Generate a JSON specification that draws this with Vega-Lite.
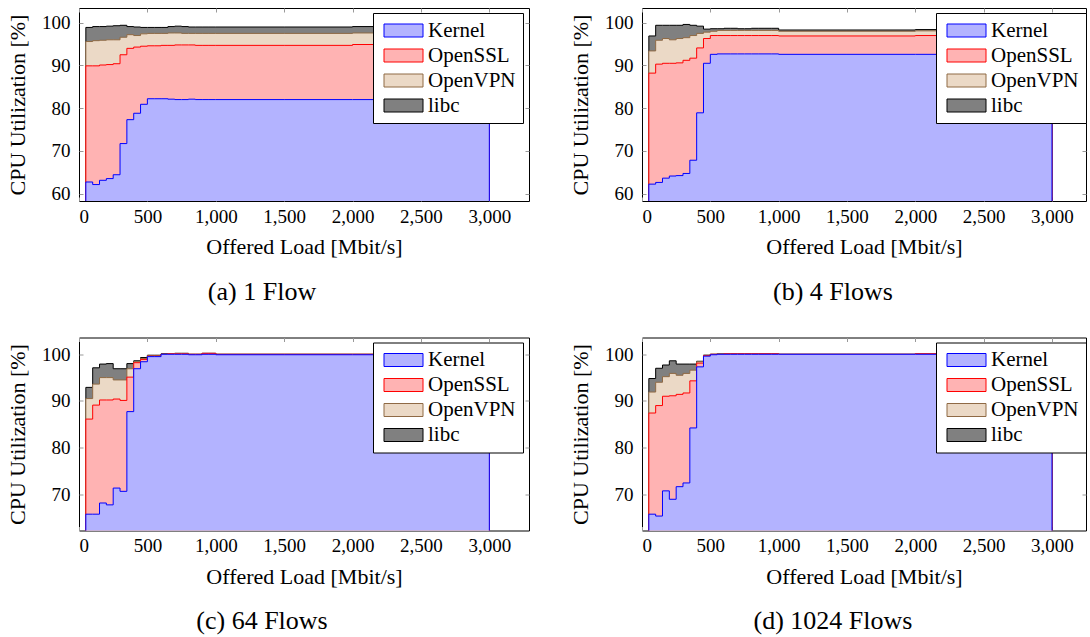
{
  "$schema": "https://vega.github.io/schema/vega-lite/v6.json",
  "padding": {"left": 6, "top": 7, "right": 0, "bottom": 0},
  "background": "white",
  "datasets": {
    "cpu": [
      {"flows":1,"load":50,"Kernel":62.7,"OpenSSL":89.9,"OpenVPN":95.6,"libc":98.9},
      {"flows":1,"load":100,"Kernel":62.1,"OpenSSL":89.9,"OpenVPN":95.8,"libc":99.1},
      {"flows":1,"load":150,"Kernel":63.1,"OpenSSL":90.1,"OpenVPN":95.9,"libc":99.1},
      {"flows":1,"load":200,"Kernel":63.5,"OpenSSL":90.2,"OpenVPN":96.0,"libc":99.2},
      {"flows":1,"load":250,"Kernel":64.4,"OpenSSL":90.4,"OpenVPN":96.0,"libc":99.3},
      {"flows":1,"load":300,"Kernel":71.7,"OpenSSL":92.5,"OpenVPN":96.6,"libc":99.4},
      {"flows":1,"load":350,"Kernel":77.3,"OpenSSL":94.0,"OpenVPN":97.2,"libc":99.1},
      {"flows":1,"load":400,"Kernel":78.8,"OpenSSL":94.3,"OpenVPN":97.0,"libc":99.0},
      {"flows":1,"load":450,"Kernel":80.9,"OpenSSL":94.5,"OpenVPN":97.4,"libc":98.9},
      {"flows":1,"load":500,"Kernel":82.2,"OpenSSL":94.6,"OpenVPN":97.5,"libc":98.9},
      {"flows":1,"load":550,"Kernel":82.2,"OpenSSL":94.6,"OpenVPN":97.5,"libc":98.9},
      {"flows":1,"load":600,"Kernel":82.2,"OpenSSL":94.7,"OpenVPN":97.5,"libc":98.9},
      {"flows":1,"load":650,"Kernel":82.1,"OpenSSL":94.7,"OpenVPN":97.6,"libc":99.1},
      {"flows":1,"load":700,"Kernel":82.0,"OpenSSL":94.8,"OpenVPN":97.6,"libc":99.2},
      {"flows":1,"load":750,"Kernel":82.0,"OpenSSL":94.8,"OpenVPN":97.5,"libc":99.1},
      {"flows":1,"load":800,"Kernel":82.1,"OpenSSL":94.8,"OpenVPN":97.5,"libc":99.0},
      {"flows":1,"load":850,"Kernel":82.0,"OpenSSL":94.7,"OpenVPN":97.5,"libc":99.0},
      {"flows":1,"load":900,"Kernel":82.0,"OpenSSL":94.7,"OpenVPN":97.5,"libc":99.0},
      {"flows":1,"load":950,"Kernel":82.0,"OpenSSL":94.7,"OpenVPN":97.5,"libc":99.0},
      {"flows":1,"load":1000,"Kernel":82.0,"OpenSSL":94.7,"OpenVPN":97.5,"libc":99.0},
      {"flows":1,"load":1500,"Kernel":82.0,"OpenSSL":94.7,"OpenVPN":97.5,"libc":99.0},
      {"flows":1,"load":2000,"Kernel":82.0,"OpenSSL":94.9,"OpenVPN":97.6,"libc":99.1},
      {"flows":1,"load":2500,"Kernel":82.0,"OpenSSL":94.9,"OpenVPN":97.6,"libc":99.1},
      {"flows":1,"load":3000,"Kernel":82.0,"OpenSSL":94.9,"OpenVPN":97.6,"libc":99.1},

      {"flows":4,"load":50,"Kernel":62.2,"OpenSSL":88.2,"OpenVPN":93.4,"libc":96.9},
      {"flows":4,"load":100,"Kernel":62.6,"OpenSSL":90.3,"OpenVPN":95.9,"libc":99.4},
      {"flows":4,"load":150,"Kernel":63.6,"OpenSSL":90.5,"OpenVPN":96.3,"libc":99.4},
      {"flows":4,"load":200,"Kernel":64.1,"OpenSSL":90.5,"OpenVPN":96.0,"libc":99.4},
      {"flows":4,"load":250,"Kernel":64.2,"OpenSSL":90.6,"OpenVPN":96.3,"libc":99.4},
      {"flows":4,"load":300,"Kernel":64.7,"OpenSSL":91.2,"OpenVPN":96.5,"libc":99.6},
      {"flows":4,"load":350,"Kernel":67.8,"OpenSSL":91.7,"OpenVPN":97.0,"libc":99.4},
      {"flows":4,"load":400,"Kernel":78.9,"OpenSSL":94.1,"OpenVPN":97.5,"libc":99.2},
      {"flows":4,"load":450,"Kernel":90.5,"OpenSSL":96.3,"OpenVPN":97.8,"libc":98.5},
      {"flows":4,"load":500,"Kernel":92.6,"OpenSSL":97.0,"OpenVPN":98.0,"libc":98.6},
      {"flows":4,"load":550,"Kernel":92.7,"OpenSSL":97.0,"OpenVPN":98.2,"libc":98.6},
      {"flows":4,"load":600,"Kernel":92.7,"OpenSSL":97.0,"OpenVPN":98.2,"libc":98.7},
      {"flows":4,"load":650,"Kernel":92.7,"OpenSSL":97.0,"OpenVPN":98.2,"libc":98.7},
      {"flows":4,"load":700,"Kernel":92.7,"OpenSSL":97.0,"OpenVPN":98.2,"libc":98.6},
      {"flows":4,"load":750,"Kernel":92.7,"OpenSSL":97.0,"OpenVPN":98.2,"libc":98.6},
      {"flows":4,"load":800,"Kernel":92.7,"OpenSSL":97.0,"OpenVPN":98.2,"libc":98.7},
      {"flows":4,"load":850,"Kernel":92.7,"OpenSSL":97.0,"OpenVPN":98.2,"libc":98.7},
      {"flows":4,"load":900,"Kernel":92.7,"OpenSSL":97.0,"OpenVPN":98.2,"libc":98.7},
      {"flows":4,"load":950,"Kernel":92.7,"OpenSSL":97.0,"OpenVPN":98.2,"libc":98.7},
      {"flows":4,"load":1000,"Kernel":92.6,"OpenSSL":96.9,"OpenVPN":98.0,"libc":98.3},
      {"flows":4,"load":1500,"Kernel":92.6,"OpenSSL":96.9,"OpenVPN":98.0,"libc":98.3},
      {"flows":4,"load":2000,"Kernel":92.6,"OpenSSL":97.0,"OpenVPN":98.1,"libc":98.4},
      {"flows":4,"load":2500,"Kernel":92.6,"OpenSSL":97.0,"OpenVPN":98.1,"libc":98.4},
      {"flows":4,"load":3000,"Kernel":92.6,"OpenSSL":97.0,"OpenVPN":98.1,"libc":98.4},

      {"flows":64,"load":50,"Kernel":65.7,"OpenSSL":86.1,"OpenVPN":90.5,"libc":92.9},
      {"flows":64,"load":100,"Kernel":65.7,"OpenSSL":89.1,"OpenVPN":93.6,"libc":97.1},
      {"flows":64,"load":150,"Kernel":68.1,"OpenSSL":90.2,"OpenVPN":95.0,"libc":97.9},
      {"flows":64,"load":200,"Kernel":67.7,"OpenSSL":90.2,"OpenVPN":95.0,"libc":98.0},
      {"flows":64,"load":250,"Kernel":71.3,"OpenSSL":90.4,"OpenVPN":94.5,"libc":96.9},
      {"flows":64,"load":300,"Kernel":70.6,"OpenSSL":90.1,"OpenVPN":94.5,"libc":96.9},
      {"flows":64,"load":350,"Kernel":87.7,"OpenSSL":95.1,"OpenVPN":96.9,"libc":98.0},
      {"flows":64,"load":400,"Kernel":96.9,"OpenSSL":98.2,"OpenVPN":98.4,"libc":98.6},
      {"flows":64,"load":450,"Kernel":98.4,"OpenSSL":98.9,"OpenVPN":99.1,"libc":99.3},
      {"flows":64,"load":500,"Kernel":99.5,"OpenSSL":99.6,"OpenVPN":99.7,"libc":99.8},
      {"flows":64,"load":550,"Kernel":99.5,"OpenSSL":99.6,"OpenVPN":99.7,"libc":99.8},
      {"flows":64,"load":600,"Kernel":100.0,"OpenSSL":100.0,"OpenVPN":100.0,"libc":100.1},
      {"flows":64,"load":650,"Kernel":100.0,"OpenSSL":100.1,"OpenVPN":100.1,"libc":100.1},
      {"flows":64,"load":700,"Kernel":100.0,"OpenSSL":100.1,"OpenVPN":100.2,"libc":100.2},
      {"flows":64,"load":750,"Kernel":100.0,"OpenSSL":100.1,"OpenVPN":100.2,"libc":100.2},
      {"flows":64,"load":800,"Kernel":99.9,"OpenSSL":100.0,"OpenVPN":100.0,"libc":100.0},
      {"flows":64,"load":850,"Kernel":99.9,"OpenSSL":100.0,"OpenVPN":100.0,"libc":100.0},
      {"flows":64,"load":900,"Kernel":100.0,"OpenSSL":100.2,"OpenVPN":100.2,"libc":100.2},
      {"flows":64,"load":950,"Kernel":100.0,"OpenSSL":100.2,"OpenVPN":100.2,"libc":100.2},
      {"flows":64,"load":1000,"Kernel":99.9,"OpenSSL":100.0,"OpenVPN":100.0,"libc":100.0},
      {"flows":64,"load":1500,"Kernel":99.9,"OpenSSL":100.0,"OpenVPN":100.0,"libc":100.0},
      {"flows":64,"load":2000,"Kernel":99.9,"OpenSSL":100.0,"OpenVPN":100.0,"libc":100.0},
      {"flows":64,"load":2500,"Kernel":99.9,"OpenSSL":100.0,"OpenVPN":100.0,"libc":100.0},
      {"flows":64,"load":3000,"Kernel":99.9,"OpenSSL":100.0,"OpenVPN":100.0,"libc":100.0},

      {"flows":1024,"load":50,"Kernel":65.7,"OpenSSL":87.4,"OpenVPN":91.9,"libc":94.8},
      {"flows":1024,"load":100,"Kernel":65.3,"OpenSSL":89.0,"OpenVPN":94.0,"libc":97.0},
      {"flows":1024,"load":150,"Kernel":70.7,"OpenSSL":91.0,"OpenVPN":95.2,"libc":97.7},
      {"flows":1024,"load":200,"Kernel":68.9,"OpenSSL":91.1,"OpenVPN":95.9,"libc":98.6},
      {"flows":1024,"load":250,"Kernel":71.6,"OpenSSL":91.4,"OpenVPN":95.5,"libc":97.9},
      {"flows":1024,"load":300,"Kernel":72.4,"OpenSSL":91.7,"OpenVPN":95.9,"libc":97.9},
      {"flows":1024,"load":350,"Kernel":84.2,"OpenSSL":94.3,"OpenVPN":96.6,"libc":97.9},
      {"flows":1024,"load":400,"Kernel":97.3,"OpenSSL":98.1,"OpenVPN":98.4,"libc":98.5},
      {"flows":1024,"load":450,"Kernel":99.6,"OpenSSL":99.7,"OpenVPN":99.8,"libc":99.8},
      {"flows":1024,"load":500,"Kernel":99.9,"OpenSSL":100.0,"OpenVPN":100.0,"libc":100.0},
      {"flows":1024,"load":550,"Kernel":100.0,"OpenSSL":100.0,"OpenVPN":100.1,"libc":100.1},
      {"flows":1024,"load":600,"Kernel":100.0,"OpenSSL":100.1,"OpenVPN":100.1,"libc":100.1},
      {"flows":1024,"load":650,"Kernel":100.0,"OpenSSL":100.1,"OpenVPN":100.1,"libc":100.1},
      {"flows":1024,"load":700,"Kernel":100.0,"OpenSSL":100.1,"OpenVPN":100.1,"libc":100.1},
      {"flows":1024,"load":750,"Kernel":100.0,"OpenSSL":100.1,"OpenVPN":100.1,"libc":100.1},
      {"flows":1024,"load":800,"Kernel":100.0,"OpenSSL":100.1,"OpenVPN":100.1,"libc":100.1},
      {"flows":1024,"load":850,"Kernel":100.0,"OpenSSL":100.1,"OpenVPN":100.1,"libc":100.1},
      {"flows":1024,"load":900,"Kernel":100.0,"OpenSSL":100.1,"OpenVPN":100.1,"libc":100.1},
      {"flows":1024,"load":950,"Kernel":100.0,"OpenSSL":100.1,"OpenVPN":100.1,"libc":100.1},
      {"flows":1024,"load":1000,"Kernel":100.0,"OpenSSL":100.0,"OpenVPN":100.0,"libc":100.0},
      {"flows":1024,"load":1500,"Kernel":100.0,"OpenSSL":100.0,"OpenVPN":100.0,"libc":100.0},
      {"flows":1024,"load":2000,"Kernel":100.0,"OpenSSL":100.1,"OpenVPN":100.1,"libc":100.1},
      {"flows":1024,"load":2500,"Kernel":100.0,"OpenSSL":100.1,"OpenVPN":100.1,"libc":100.1},
      {"flows":1024,"load":3000,"Kernel":100.0,"OpenSSL":100.1,"OpenVPN":100.1,"libc":100.1}
    ]
  },
  "data": {"name": "cpu"},
  "config": {
    "font": "Liberation Serif",
    "view": {"stroke": "#000", "strokeWidth": 1},
    "axis": {
      "labelFont": "Liberation Serif", "titleFont": "Liberation Serif",
      "labelFontSize": 19, "titleFontSize": 22, "titleFontWeight": "normal",
      "labelColor": "#000", "titleColor": "#000",
      "grid": false, "domain": false,
      "tickColor": "#999", "tickSize": -4, "tickWidth": 1
    },
    "axisBottom": {"labelPadding": 10, "titlePadding": 10.5},
    "axisLeft": {"labelPadding": 13, "titlePadding": 12},
    "legend": {
      "title": null,
      "fillColor": "#fff", "strokeColor": "#000",
      "padding": 7,
      "symbolType": "M-3,-1H3V1H-3Z",
      "symbolSize": 169,
      "symbolStrokeWidth": 1,
      "symbolOpacity": 1,
      "symbolOffset": 13,
      "labelOffset": 14,
      "labelFont": "Liberation Serif", "labelFontSize": 21, "labelColor": "#000",
      "rowPadding": 3
    },
    "title": {
      "font": "Liberation Serif", "fontSize": 26, "fontWeight": "normal", "color": "#000",
      "orient": "bottom", "anchor": "middle", "frame": "bounds", "offset": 21
    }
  },
  "resolve": {"scale": {"fill": "independent", "stroke": "independent"}},
  "spacing": 31.5,
  "vconcat": [
    {
      "resolve": {"scale": {"fill": "independent", "stroke": "independent"}},
      "spacing": 39,
      "hconcat": [
        {
          "width": 450, "height": 193,
          "title": {"text": "(a) 1 Flow", "dx": -6},
          "transform": [{"filter": "datum.flows == 1"}, {"fold": ["Kernel", "OpenSSL", "OpenVPN", "libc"], "as": ["part", "level"]}],
          "layer": [
            {
              "encoding": {
                "x": {"field": "load", "type": "quantitative", "scale": {"domain": [0, 3290], "nice": false}, "axis": {"values": [0, 500, 1000, 1500, 2000, 2500, 3000], "format": ",d", "title": "Offered Load [Mbit/s]"}},
                "y": {"field": "level", "type": "quantitative", "scale": {"domain": [58.25, 103.45], "nice": false, "zero": false}, "axis": {"values": [60, 70, 80, 90, 100], "title": "CPU Utilization [%]"}},
                "fill": {"field": "part", "type": "nominal", "title": null, "scale": {"domain": ["Kernel", "OpenSSL", "OpenVPN", "libc"], "range": ["#b3b3ff", "#ffb3b3", "#ebd9c6", "#808080"]}, "legend": {"orient": "none", "legendX": 294, "legendY": 5}},
                "stroke": {"field": "part", "type": "nominal", "title": null, "scale": {"domain": ["Kernel", "OpenSSL", "OpenVPN", "libc"], "range": ["#0000ff", "#ff0000", "#8f6a45", "#000000"]}, "legend": {"orient": "none", "legendX": 294, "legendY": 5}}
              },
              "layer": [
                {"transform": [{"filter": "datum.part == 'libc'"}], "mark": {"type": "area", "interpolate": "step-after", "opacity": 1, "strokeWidth": 1, "clip": true}},
                {"transform": [{"filter": "datum.part == 'OpenVPN'"}], "mark": {"type": "area", "interpolate": "step-after", "opacity": 1, "strokeWidth": 1, "clip": true}},
                {"transform": [{"filter": "datum.part == 'OpenSSL'"}], "mark": {"type": "area", "interpolate": "step-after", "opacity": 1, "strokeWidth": 1, "clip": true}},
                {"transform": [{"filter": "datum.part == 'Kernel'"}], "mark": {"type": "area", "interpolate": "step-after", "opacity": 1, "strokeWidth": 1, "clip": true}}
              ]
            },
            {
              "transform": [{"filter": "datum.part == 'Kernel'"}],
              "mark": {"type": "point", "opacity": 0},
              "encoding": {
                "x": {"field": "load", "type": "quantitative", "scale": {"domain": [0, 3290], "nice": false}, "axis": {"orient": "top", "values": [0, 500, 1000, 1500, 2000, 2500, 3000], "labels": false, "title": null}},
                "y": {"field": "level", "type": "quantitative", "scale": {"domain": [58.25, 103.45], "nice": false, "zero": false}, "axis": {"orient": "right", "values": [60, 70, 80, 90, 100], "labels": false, "title": null}}
              }
            }
          ],
          "resolve": {"axis": {"x": "independent", "y": "independent"}}
        },
        {
          "width": 444, "height": 193,
          "title": {"text": "(b) 4 Flows", "dx": 5},
          "transform": [{"filter": "datum.flows == 4"}, {"fold": ["Kernel", "OpenSSL", "OpenVPN", "libc"], "as": ["part", "level"]}],
          "layer": [
            {
              "encoding": {
                "x": {"field": "load", "type": "quantitative", "scale": {"domain": [0, 3249], "nice": false}, "axis": {"values": [0, 500, 1000, 1500, 2000, 2500, 3000], "format": ",d", "title": "Offered Load [Mbit/s]"}},
                "y": {"field": "level", "type": "quantitative", "scale": {"domain": [58.25, 103.45], "nice": false, "zero": false}, "axis": {"values": [60, 70, 80, 90, 100], "title": "CPU Utilization [%]"}},
                "fill": {"field": "part", "type": "nominal", "title": null, "scale": {"domain": ["Kernel", "OpenSSL", "OpenVPN", "libc"], "range": ["#b3b3ff", "#ffb3b3", "#ebd9c6", "#808080"]}, "legend": {"orient": "none", "legendX": 294, "legendY": 5}},
                "stroke": {"field": "part", "type": "nominal", "title": null, "scale": {"domain": ["Kernel", "OpenSSL", "OpenVPN", "libc"], "range": ["#0000ff", "#ff0000", "#8f6a45", "#000000"]}, "legend": {"orient": "none", "legendX": 294, "legendY": 5}}
              },
              "layer": [
                {"transform": [{"filter": "datum.part == 'libc'"}], "mark": {"type": "area", "interpolate": "step-after", "opacity": 1, "strokeWidth": 1, "clip": true}},
                {"transform": [{"filter": "datum.part == 'OpenVPN'"}], "mark": {"type": "area", "interpolate": "step-after", "opacity": 1, "strokeWidth": 1, "clip": true}},
                {"transform": [{"filter": "datum.part == 'OpenSSL'"}], "mark": {"type": "area", "interpolate": "step-after", "opacity": 1, "strokeWidth": 1, "clip": true}},
                {"transform": [{"filter": "datum.part == 'Kernel'"}], "mark": {"type": "area", "interpolate": "step-after", "opacity": 1, "strokeWidth": 1, "clip": true}}
              ]
            },
            {
              "transform": [{"filter": "datum.part == 'Kernel'"}],
              "mark": {"type": "point", "opacity": 0},
              "encoding": {
                "x": {"field": "load", "type": "quantitative", "scale": {"domain": [0, 3249], "nice": false}, "axis": {"orient": "top", "values": [0, 500, 1000, 1500, 2000, 2500, 3000], "labels": false, "title": null}},
                "y": {"field": "level", "type": "quantitative", "scale": {"domain": [58.25, 103.45], "nice": false, "zero": false}, "axis": {"orient": "right", "values": [60, 70, 80, 90, 100], "labels": false, "title": null}}
              }
            }
          ],
          "resolve": {"axis": {"x": "independent", "y": "independent"}}
        }
      ]
    },
    {
      "resolve": {"scale": {"fill": "independent", "stroke": "independent"}},
      "spacing": 39,
      "hconcat": [
        {
          "width": 450, "height": 193,
          "title": {"text": "(c) 64 Flows", "dx": -6},
          "transform": [{"filter": "datum.flows == 64"}, {"fold": ["Kernel", "OpenSSL", "OpenVPN", "libc"], "as": ["part", "level"]}],
          "layer": [
            {
              "encoding": {
                "x": {"field": "load", "type": "quantitative", "scale": {"domain": [0, 3290], "nice": false}, "axis": {"values": [0, 500, 1000, 1500, 2000, 2500, 3000], "format": ",d", "title": "Offered Load [Mbit/s]"}},
                "y": {"field": "level", "type": "quantitative", "scale": {"domain": [62.2, 103.6], "nice": false, "zero": false}, "axis": {"values": [70, 80, 90, 100], "title": "CPU Utilization [%]"}},
                "fill": {"field": "part", "type": "nominal", "title": null, "scale": {"domain": ["Kernel", "OpenSSL", "OpenVPN", "libc"], "range": ["#b3b3ff", "#ffb3b3", "#ebd9c6", "#808080"]}, "legend": {"orient": "none", "legendX": 294, "legendY": 5}},
                "stroke": {"field": "part", "type": "nominal", "title": null, "scale": {"domain": ["Kernel", "OpenSSL", "OpenVPN", "libc"], "range": ["#0000ff", "#ff0000", "#8f6a45", "#000000"]}, "legend": {"orient": "none", "legendX": 294, "legendY": 5}}
              },
              "layer": [
                {"transform": [{"filter": "datum.part == 'libc'"}], "mark": {"type": "area", "interpolate": "step-after", "opacity": 1, "strokeWidth": 1, "clip": true}},
                {"transform": [{"filter": "datum.part == 'OpenVPN'"}], "mark": {"type": "area", "interpolate": "step-after", "opacity": 1, "strokeWidth": 1, "clip": true}},
                {"transform": [{"filter": "datum.part == 'OpenSSL'"}], "mark": {"type": "area", "interpolate": "step-after", "opacity": 1, "strokeWidth": 1, "clip": true}},
                {"transform": [{"filter": "datum.part == 'Kernel'"}], "mark": {"type": "area", "interpolate": "step-after", "opacity": 1, "strokeWidth": 1, "clip": true}}
              ]
            },
            {
              "transform": [{"filter": "datum.part == 'Kernel'"}],
              "mark": {"type": "point", "opacity": 0},
              "encoding": {
                "x": {"field": "load", "type": "quantitative", "scale": {"domain": [0, 3290], "nice": false}, "axis": {"orient": "top", "values": [0, 500, 1000, 1500, 2000, 2500, 3000], "labels": false, "title": null}},
                "y": {"field": "level", "type": "quantitative", "scale": {"domain": [62.2, 103.6], "nice": false, "zero": false}, "axis": {"orient": "right", "values": [70, 80, 90, 100], "labels": false, "title": null}}
              }
            }
          ],
          "resolve": {"axis": {"x": "independent", "y": "independent"}}
        },
        {
          "width": 444, "height": 193,
          "title": {"text": "(d) 1024 Flows", "dx": 5},
          "transform": [{"filter": "datum.flows == 1024"}, {"fold": ["Kernel", "OpenSSL", "OpenVPN", "libc"], "as": ["part", "level"]}],
          "layer": [
            {
              "encoding": {
                "x": {"field": "load", "type": "quantitative", "scale": {"domain": [0, 3249], "nice": false}, "axis": {"values": [0, 500, 1000, 1500, 2000, 2500, 3000], "format": ",d", "title": "Offered Load [Mbit/s]"}},
                "y": {"field": "level", "type": "quantitative", "scale": {"domain": [62.2, 103.6], "nice": false, "zero": false}, "axis": {"values": [70, 80, 90, 100], "title": "CPU Utilization [%]"}},
                "fill": {"field": "part", "type": "nominal", "title": null, "scale": {"domain": ["Kernel", "OpenSSL", "OpenVPN", "libc"], "range": ["#b3b3ff", "#ffb3b3", "#ebd9c6", "#808080"]}, "legend": {"orient": "none", "legendX": 294, "legendY": 5}},
                "stroke": {"field": "part", "type": "nominal", "title": null, "scale": {"domain": ["Kernel", "OpenSSL", "OpenVPN", "libc"], "range": ["#0000ff", "#ff0000", "#8f6a45", "#000000"]}, "legend": {"orient": "none", "legendX": 294, "legendY": 5}}
              },
              "layer": [
                {"transform": [{"filter": "datum.part == 'libc'"}], "mark": {"type": "area", "interpolate": "step-after", "opacity": 1, "strokeWidth": 1, "clip": true}},
                {"transform": [{"filter": "datum.part == 'OpenVPN'"}], "mark": {"type": "area", "interpolate": "step-after", "opacity": 1, "strokeWidth": 1, "clip": true}},
                {"transform": [{"filter": "datum.part == 'OpenSSL'"}], "mark": {"type": "area", "interpolate": "step-after", "opacity": 1, "strokeWidth": 1, "clip": true}},
                {"transform": [{"filter": "datum.part == 'Kernel'"}], "mark": {"type": "area", "interpolate": "step-after", "opacity": 1, "strokeWidth": 1, "clip": true}}
              ]
            },
            {
              "transform": [{"filter": "datum.part == 'Kernel'"}],
              "mark": {"type": "point", "opacity": 0},
              "encoding": {
                "x": {"field": "load", "type": "quantitative", "scale": {"domain": [0, 3249], "nice": false}, "axis": {"orient": "top", "values": [0, 500, 1000, 1500, 2000, 2500, 3000], "labels": false, "title": null}},
                "y": {"field": "level", "type": "quantitative", "scale": {"domain": [62.2, 103.6], "nice": false, "zero": false}, "axis": {"orient": "right", "values": [70, 80, 90, 100], "labels": false, "title": null}}
              }
            }
          ],
          "resolve": {"axis": {"x": "independent", "y": "independent"}}
        }
      ]
    }
  ]
}
